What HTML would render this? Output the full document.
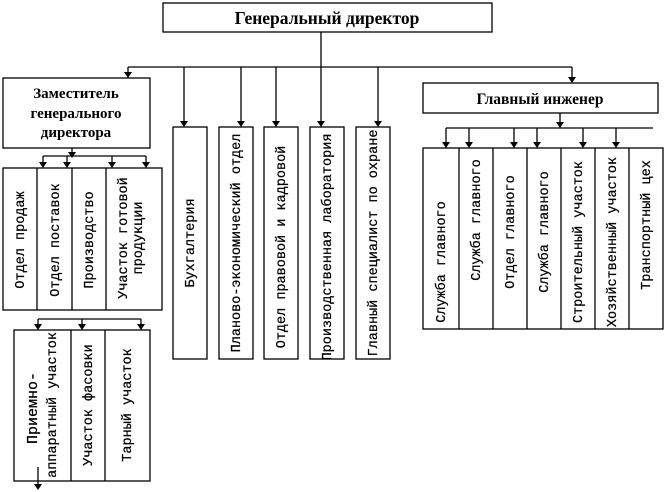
<!DOCTYPE html>
<html><head><meta charset="utf-8"><style>
html,body{margin:0;padding:0;background:#fff;width:666px;height:492px;overflow:hidden}
svg text{font-family:"Liberation Serif",serif;fill:#000}
.v text{font-family:"Liberation Mono",monospace;font-size:13.5px;stroke:#000;stroke-width:0.25}
</style></head><body>
<svg width="666" height="492" viewBox="0 0 666 492" xmlns="http://www.w3.org/2000/svg">
<g stroke="#000" stroke-width="1.3" fill="none">
<rect x="163" y="3" width="329" height="29"/>
<line x1="321" y1="32" x2="321" y2="67"/>
<line x1="128" y1="67" x2="572" y2="67"/>
<rect x="3" y="78" width="147" height="70"/>
<rect x="423" y="83" width="235" height="30"/>
<line x1="72" y1="148" x2="72" y2="156"/>
<line x1="43" y1="156" x2="146" y2="156"/>
<rect x="3" y="168" width="159" height="142"/>
<line x1="37" y1="168" x2="37" y2="310"/><line x1="72" y1="168" x2="72" y2="310"/><line x1="106" y1="168" x2="106" y2="310"/>
<rect x="173" y="127" width="34" height="232"/>
<rect x="219" y="127" width="34" height="232"/>
<rect x="264" y="127" width="34" height="232"/>
<rect x="310" y="127" width="34" height="232"/>
<rect x="356" y="127" width="34" height="232"/>
<line x1="560" y1="113" x2="560" y2="128"/>
<line x1="446" y1="128" x2="653" y2="128"/>
<rect x="423" y="148" width="240" height="181"/>
<line x1="459" y1="148" x2="459" y2="329"/><line x1="493" y1="148" x2="493" y2="329"/><line x1="527" y1="148" x2="527" y2="329"/><line x1="561" y1="148" x2="561" y2="329"/><line x1="595" y1="148" x2="595" y2="329"/><line x1="629" y1="148" x2="629" y2="329"/>
<line x1="38" y1="319" x2="141" y2="319"/>
<rect x="14" y="330" width="136" height="151"/>
<line x1="71" y1="330" x2="71" y2="481"/><line x1="105" y1="330" x2="105" y2="481"/>
<line x1="38" y1="467" x2="38" y2="484"/>
<line x1="184" y1="67" x2="184" y2="121"/><line x1="241" y1="67" x2="241" y2="121"/><line x1="276" y1="67" x2="276" y2="121"/><line x1="321" y1="67" x2="321" y2="121"/><line x1="378" y1="67" x2="378" y2="121"/><line x1="128" y1="67" x2="128" y2="72"/><line x1="572" y1="67" x2="572" y2="77"/>
<line x1="43" y1="156" x2="43" y2="162"/><line x1="67" y1="156" x2="67" y2="162"/><line x1="112" y1="156" x2="112" y2="162"/><line x1="146" y1="156" x2="146" y2="162"/>
<line x1="446" y1="128" x2="446" y2="142"/><line x1="469" y1="128" x2="469" y2="142"/><line x1="514" y1="128" x2="514" y2="142"/><line x1="537" y1="128" x2="537" y2="142"/><line x1="583" y1="128" x2="583" y2="142"/><line x1="616" y1="128" x2="616" y2="142"/>
<line x1="38" y1="319" x2="38" y2="324"/><line x1="82" y1="319" x2="82" y2="324"/><line x1="141" y1="319" x2="141" y2="324"/>
</g>
<g fill="#000">
<path d="M124,72 L132,72 L128,78 Z"/>
<path d="M568,77 L576,77 L572,83 Z"/>
<path d="M68,152 L76,152 L72,158 Z"/>
<path d="M39,162 L47,162 L43,168 Z"/><path d="M63,162 L71,162 L67,168 Z"/><path d="M108,162 L116,162 L112,168 Z"/><path d="M142,162 L150,162 L146,168 Z"/>
<path d="M180,121 L188,121 L184,127 Z"/><path d="M237,121 L245,121 L241,127 Z"/><path d="M272,121 L280,121 L276,127 Z"/><path d="M317,121 L325,121 L321,127 Z"/><path d="M374,121 L382,121 L378,127 Z"/>
<path d="M556,122 L564,122 L560,128 Z"/>
<path d="M442,142 L450,142 L446,148 Z"/><path d="M465,142 L473,142 L469,148 Z"/><path d="M510,142 L518,142 L514,148 Z"/><path d="M533,142 L541,142 L537,148 Z"/><path d="M579,142 L587,142 L583,148 Z"/><path d="M612,142 L620,142 L616,148 Z"/>
<path d="M34,324 L42,324 L38,330 Z"/><path d="M78,324 L86,324 L82,330 Z"/><path d="M137,324 L145,324 L141,330 Z"/>
<path d="M34,484 L42,484 L38,490 Z"/>
</g>
<text x="327" y="24" font-size="17.5" font-weight="bold" text-anchor="middle">Генеральный директор</text>
<text x="76" y="98" font-size="15" font-weight="bold" text-anchor="middle">Заместитель</text>
<text x="76" y="118" font-size="15" font-weight="bold" text-anchor="middle">генерального</text>
<text x="76" y="137" font-size="15" font-weight="bold" text-anchor="middle">директора</text>
<text x="540" y="104" font-size="15.5" font-weight="bold" text-anchor="middle">Главный инженер</text>
<g class="v" text-anchor="middle">
<text transform="translate(24,240) rotate(-90)">Отдел продаж</text>
<text transform="translate(59,240) rotate(-90)">Отдел поставок</text>
<text transform="translate(93,240) rotate(-90)">Производство</text>
<text transform="translate(127,238) rotate(-90)">Участок готовой</text>
<text transform="translate(142,238) rotate(-90)">продукции</text>
<text transform="translate(194,243) rotate(-90)">Бухгалтерия</text>
<text transform="translate(240,243) rotate(-90)">Планово-экономический отдел</text>
<text transform="translate(285,247) rotate(-90)">Отдел правовой и кадровой</text>
<text transform="translate(331,247) rotate(-90)">Производственная лаборатория</text>
<text transform="translate(377,243) rotate(-90)">Главный специалист по охране</text>
<text transform="translate(445,262) rotate(-90)">Служба главного</text>
<text transform="translate(480,220) rotate(-90)">Служба главного</text>
<text transform="translate(514,232) rotate(-90)">Отдел главного</text>
<text transform="translate(548,232) rotate(-90)">Служба главного</text>
<text transform="translate(582,242) rotate(-90)">Строительный участок</text>
<text transform="translate(616,242) rotate(-90)">Хозяйственный участок</text>
<text transform="translate(650,225) rotate(-90)">Транспортный цех</text>
<text transform="translate(37,408) rotate(-90)" style="font-size:15px">Приемно-</text>
<text transform="translate(56,405) rotate(-90)">аппаратный участок</text>
<text transform="translate(92,405) rotate(-90)">Участок фасовки</text>
<text transform="translate(131,405) rotate(-90)">Тарный участок</text>
</g>
</svg>
</body></html>
